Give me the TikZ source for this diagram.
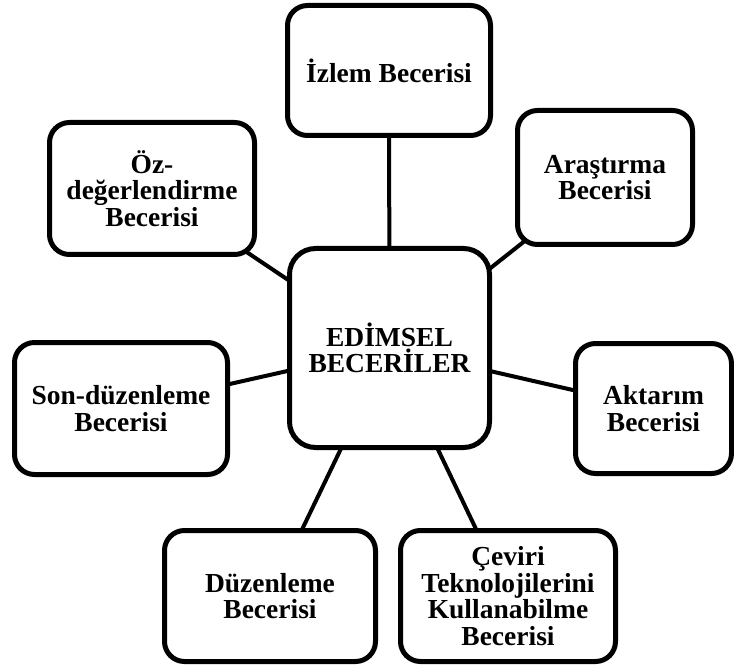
\documentclass[tikz,border=0pt]{standalone}
\usepackage{fontspec}
\setmainfont{Liberation Serif}
\usetikzlibrary{backgrounds}
\begin{document}
\begin{tikzpicture}[x=1pt,y=-1pt,
  skill/.style={draw, line width=5pt, rounded corners=20pt, fill=white,
    align=center, inner sep=0pt,
    font=\bfseries\fontsize{27.5}{26.5}\selectfont},
  link/.style={draw, line width=4pt}]
  \useasboundingbox (0,0) rectangle (734,671);

  % central skill
  \node[skill, rounded corners=26pt, minimum width=200pt, minimum height=199pt]
    (core) at (389.5,348) {EDİMSEL\\BECERİLER};

  % surrounding skills
  \node[skill, minimum width=203pt, minimum height=130pt]
    (izlem) at (389,70.5) {İzlem Becerisi};
  \node[skill, minimum width=175pt, minimum height=134pt]
    (arastirma) at (605,177.5) {Araştırma\\Becerisi};
  \node[skill, minimum width=205pt, minimum height=132pt]
    (oz) at (152,188.5) {Öz-\\değerlendirme\\Becerisi};
  \node[skill, minimum width=213pt, minimum height=132pt]
    (son) at (121,408.5) {Son-düzenleme\\Becerisi};
  \node[skill, minimum width=156pt, minimum height=130pt]
    (aktarim) at (653.5,408.5) {Aktarım\\Becerisi};
  \node[skill, minimum width=211pt, minimum height=131pt]
    (duzenleme) at (270,596) {Düzenleme\\Becerisi};
  \node[skill, minimum width=215pt, minimum height=131pt]
    (ceviri) at (508,596) {Çeviri\\Teknolojilerini\\Kullanabilme\\Becerisi};

  % spokes, drawn behind the boxes
  \begin{scope}[on background layer]
    \foreach \n in {izlem,arastirma,oz,son,aktarim,duzenleme,ceviri}
      \draw[link] (core.center) -- (\n.center);
  \end{scope}
\end{tikzpicture}
\end{document}
